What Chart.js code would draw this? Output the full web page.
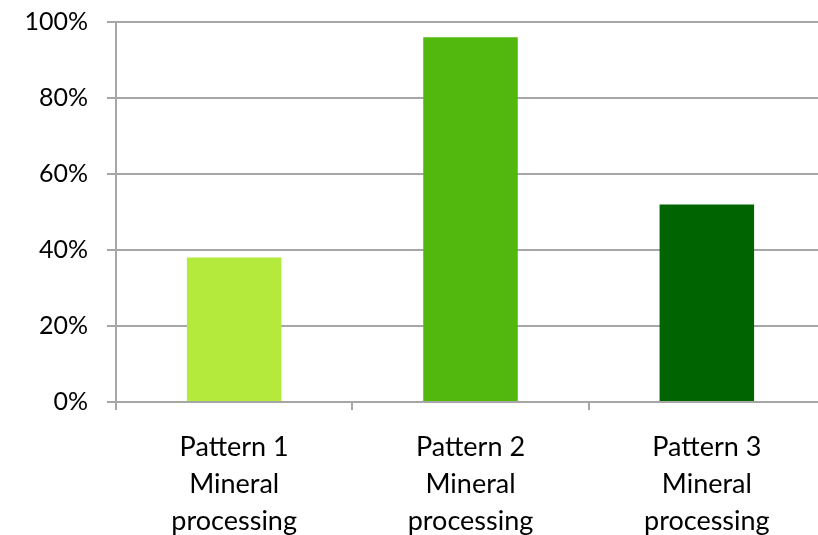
<!DOCTYPE html>
<html>
<head>
<meta charset="utf-8">
<script src="https://cdn.jsdelivr.net/npm/chart.js@4"></script>
<style>
  html, body { margin: 0; padding: 0; background: #ffffff; overflow: hidden; }
  #wrap { width: 818px; height: 535px; overflow: hidden; position: relative; }
  canvas { display: block; }
</style>
</head>
<body>
<div id="wrap"><canvas id="chart" width="826" height="535"></canvas></div>
<script>
// Share of mineral processing per pattern (percent)
const categories = [
  ['Pattern 1', 'Mineral', 'processing'],
  ['Pattern 2', 'Mineral', 'processing'],
  ['Pattern 3', 'Mineral', 'processing']
];
const shareValues = [38, 96, 52];
const yTickValues = [0, 20, 40, 60, 80, 100];
const barColors = ['#b3ea3c', '#53b80e', '#006400'];

const gridGrey = '#a6a6a6';
const fontFamily = 'Lato, "Open Sans", sans-serif';

new Chart(document.getElementById('chart'), {
  type: 'bar',
  data: {
    labels: categories,
    datasets: [{
      data: shareValues,
      backgroundColor: barColors,
      borderWidth: 0,
      barPercentage: 0.4,
      categoryPercentage: 1.0
    }]
  },
  options: {
    responsive: false,
    animation: false,
    layout: { padding: { top: 22, right: 1, left: 0, bottom: 0 } },
    plugins: {
      legend: { display: false },
      tooltip: { enabled: false }
    },
    scales: {
      x: {
        grid: {
          display: true,
          drawOnChartArea: false,
          drawTicks: true,
          tickLength: 8,
          color: gridGrey,
          lineWidth: 2,
          offset: true
        },
        border: { display: true, color: gridGrey, width: 2 },
        ticks: {
          color: '#000000',
          font: { family: fontFamily, size: 27, lineHeight: 1.37 },
          padding: 19,
          maxRotation: 0,
          autoSkip: false
        },
        afterFit: (scale) => {
          scale.height = 133;
          scale.paddingLeft = 0;
          scale.paddingRight = 0;
        }
      },
      y: {
        min: 0,
        max: 100,
        afterBuildTicks: (scale) => {
          scale.ticks = yTickValues.map(v => ({ value: v }));
        },
        grid: {
          color: gridGrey,
          lineWidth: 2,
          drawTicks: true,
          tickLength: 9
        },
        border: { display: true, color: gridGrey, width: 2 },
        ticks: {
          color: '#000000',
          font: { family: fontFamily, size: 25 },
          padding: 19,
          callback: (v) => v + '%'
        },
        afterFit: (scale) => {
          scale.width = 116;
          scale.paddingTop = 0;
          scale.paddingBottom = 0;
        }
      }
    }
  }
});
</script>
</body>
</html>
